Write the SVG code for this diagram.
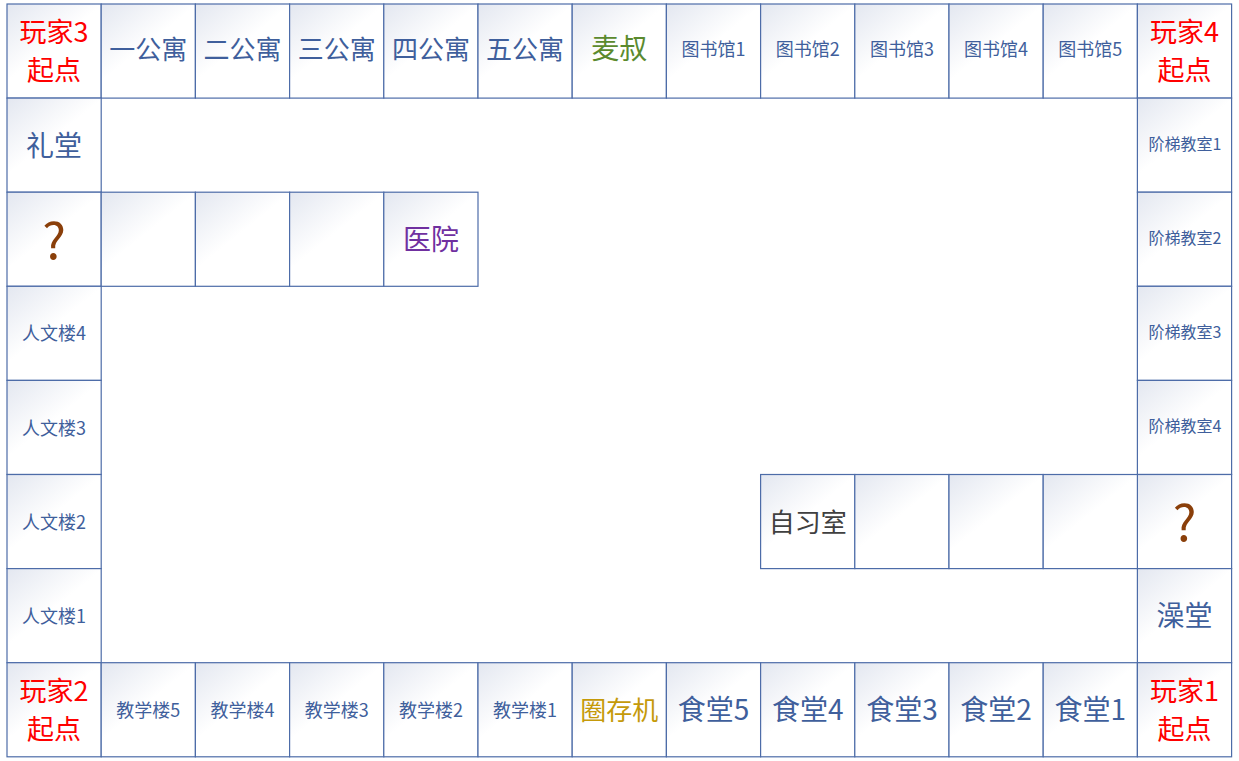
<svg xmlns="http://www.w3.org/2000/svg" width="1239" height="761" viewBox="0 0 1239 761">
<defs>
<linearGradient id="g" x1="0" y1="0" x2="0.8" y2="1">
<stop offset="0" stop-color="#e3e7f0"/>
<stop offset="0.5" stop-color="#ffffff"/>
<stop offset="1" stop-color="#ffffff"/>
</linearGradient>
</defs>
<style>
.cell{fill:url(#g);stroke:#4d6ca8;stroke-width:1.2}
text{font-family:"Microsoft YaHei","Noto Sans CJK SC",sans-serif;text-anchor:middle;dominant-baseline:central}
.b{fill:#3f5f9c;font-size:26px}
.bl{fill:#3f5f9c;font-size:28px}
.s{fill:#3f5f9c;font-size:18px}
.xs{fill:#3f5f9c;font-size:16px}
.r{fill:#ff0000;font-size:27px}
.q{fill:#8a3f0a;font-size:50px}
</style>
<rect width="1239" height="761" fill="#ffffff"/>
<g id="top">
<g id="p3"><rect class="cell" x="7" y="4" width="94.2" height="94.1"/><text class="r" x="54" y="30">玩家3</text><text class="r" x="54" y="68">起点</text></g>
<g id="a1"><rect class="cell" x="101.2" y="4" width="94.2" height="94.1"/><text class="b" x="148.3" y="47">一公寓</text></g>
<g id="a2"><rect class="cell" x="195.4" y="4" width="94.2" height="94.1"/><text class="b" x="242.5" y="47">二公寓</text></g>
<g id="a3"><rect class="cell" x="289.6" y="4" width="94.2" height="94.1"/><text class="b" x="336.7" y="47">三公寓</text></g>
<g id="a4"><rect class="cell" x="383.8" y="4" width="94.2" height="94.1"/><text class="b" x="430.9" y="47">四公寓</text></g>
<g id="a5"><rect class="cell" x="478" y="4" width="94.2" height="94.1"/><text class="b" x="525.1" y="47">五公寓</text></g>
<g id="maishu"><rect class="cell" x="572.2" y="4" width="94.2" height="94.1"/><text class="bl" x="619.3" y="47" style="fill:#5b8a2e">麦叔</text></g>
<g id="lib1"><rect class="cell" x="666.4" y="4" width="94.2" height="94.1"/><text class="s" x="713.5" y="48">图书馆1</text></g>
<g id="lib2"><rect class="cell" x="760.6" y="4" width="94.2" height="94.1"/><text class="s" x="807.7" y="48">图书馆2</text></g>
<g id="lib3"><rect class="cell" x="854.8" y="4" width="94.2" height="94.1"/><text class="s" x="901.9" y="48">图书馆3</text></g>
<g id="lib4"><rect class="cell" x="949" y="4" width="94.2" height="94.1"/><text class="s" x="996.1" y="48">图书馆4</text></g>
<g id="lib5"><rect class="cell" x="1043.2" y="4" width="94.2" height="94.1"/><text class="s" x="1090.3" y="48">图书馆5</text></g>
<g id="p4"><rect class="cell" x="1137.4" y="4" width="94.2" height="94.1"/><text class="r" x="1184.5" y="30">玩家4</text><text class="r" x="1184.5" y="68">起点</text></g>
</g>
<g id="left">
<g id="litang"><rect class="cell" x="7" y="98.1" width="94.2" height="94.1"/><text class="bl" x="54" y="144">礼堂</text></g>
<g id="q1"><rect class="cell" x="7" y="192.2" width="94.2" height="94.1"/><text class="q" x="54" y="237">?</text></g>
<g id="rw4"><rect class="cell" x="7" y="286.3" width="94.2" height="94.1"/><text class="s" x="54" y="332">人文楼4</text></g>
<g id="rw3"><rect class="cell" x="7" y="380.4" width="94.2" height="94.1"/><text class="s" x="54" y="427">人文楼3</text></g>
<g id="rw2"><rect class="cell" x="7" y="474.5" width="94.2" height="94.1"/><text class="s" x="54" y="521">人文楼2</text></g>
<g id="rw1"><rect class="cell" x="7" y="568.6" width="94.2" height="94.1"/><text class="s" x="54" y="615">人文楼1</text></g>
</g>
<g id="branch1">
<g id="e1"><rect class="cell" x="101.2" y="192.2" width="94.2" height="94.1"/></g>
<g id="e2"><rect class="cell" x="195.4" y="192.2" width="94.2" height="94.1"/></g>
<g id="e3"><rect class="cell" x="289.6" y="192.2" width="94.2" height="94.1"/></g>
<g id="hospital"><rect class="cell" x="383.8" y="192.2" width="94.2" height="94.1"/><text class="bl" x="430.9" y="238" style="fill:#7030a0">医院</text></g>
</g>
<g id="right">
<g id="jt1"><rect class="cell" x="1137.4" y="98.1" width="94.2" height="94.1"/><text class="xs" x="1185" y="143">阶梯教室1</text></g>
<g id="jt2"><rect class="cell" x="1137.4" y="192.2" width="94.2" height="94.1"/><text class="xs" x="1185" y="237">阶梯教室2</text></g>
<g id="jt3"><rect class="cell" x="1137.4" y="286.3" width="94.2" height="94.1"/><text class="xs" x="1185" y="331">阶梯教室3</text></g>
<g id="jt4"><rect class="cell" x="1137.4" y="380.4" width="94.2" height="94.1"/><text class="xs" x="1185" y="425">阶梯教室4</text></g>
<g id="q2"><rect class="cell" x="1137.4" y="474.5" width="94.2" height="94.1"/><text class="q" x="1184.5" y="519">?</text></g>
<g id="zaotang"><rect class="cell" x="1137.4" y="568.6" width="94.2" height="94.1"/><text class="bl" x="1184.5" y="614">澡堂</text></g>
</g>
<g id="branch2">
<g id="zixi"><rect class="cell" x="760.6" y="474.5" width="94.2" height="94.1"/><text class="b" x="807.7" y="520" style="fill:#404040">自习室</text></g>
<g id="f1"><rect class="cell" x="854.8" y="474.5" width="94.2" height="94.1"/></g>
<g id="f2"><rect class="cell" x="949" y="474.5" width="94.2" height="94.1"/></g>
<g id="f3"><rect class="cell" x="1043.2" y="474.5" width="94.2" height="94.1"/></g>
</g>
<g id="bottom">
<g id="p2"><rect class="cell" x="7" y="662.7" width="94.2" height="94.1"/><text class="r" x="54" y="689">玩家2</text><text class="r" x="54" y="727">起点</text></g>
<g id="jx5"><rect class="cell" x="101.2" y="662.7" width="94.2" height="94.1"/><text class="s" x="148.3" y="709">教学楼5</text></g>
<g id="jx4"><rect class="cell" x="195.4" y="662.7" width="94.2" height="94.1"/><text class="s" x="242.5" y="709">教学楼4</text></g>
<g id="jx3"><rect class="cell" x="289.6" y="662.7" width="94.2" height="94.1"/><text class="s" x="336.7" y="709">教学楼3</text></g>
<g id="jx2"><rect class="cell" x="383.8" y="662.7" width="94.2" height="94.1"/><text class="s" x="430.9" y="709">教学楼2</text></g>
<g id="jx1"><rect class="cell" x="478" y="662.7" width="94.2" height="94.1"/><text class="s" x="525.1" y="709">教学楼1</text></g>
<g id="quancun"><rect class="cell" x="572.2" y="662.7" width="94.2" height="94.1"/><text class="b" x="619.3" y="708" style="fill:#c59a0a">圈存机</text></g>
<g id="st5"><rect class="cell" x="666.4" y="662.7" width="94.2" height="94.1"/><text class="bl" x="713.5" y="708">食堂5</text></g>
<g id="st4"><rect class="cell" x="760.6" y="662.7" width="94.2" height="94.1"/><text class="bl" x="807.7" y="708">食堂4</text></g>
<g id="st3"><rect class="cell" x="854.8" y="662.7" width="94.2" height="94.1"/><text class="bl" x="901.9" y="708">食堂3</text></g>
<g id="st2"><rect class="cell" x="949" y="662.7" width="94.2" height="94.1"/><text class="bl" x="996.1" y="708">食堂2</text></g>
<g id="st1"><rect class="cell" x="1043.2" y="662.7" width="94.2" height="94.1"/><text class="bl" x="1090.3" y="708">食堂1</text></g>
<g id="p1"><rect class="cell" x="1137.4" y="662.7" width="94.2" height="94.1"/><text class="r" x="1184.5" y="689">玩家1</text><text class="r" x="1184.5" y="727">起点</text></g>
</g>
<g id="connectors"/>
</svg>
